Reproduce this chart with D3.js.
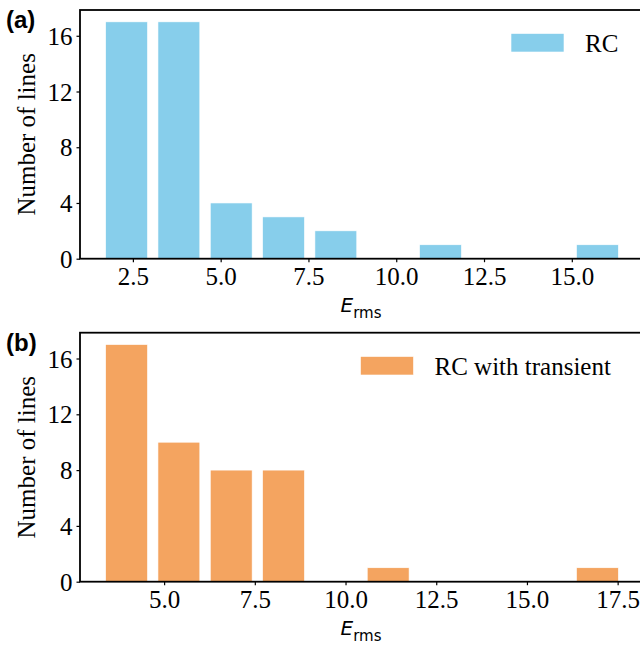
<!DOCTYPE html>
<html>
<head>
<meta charset="utf-8">
<script src="https://cdn.jsdelivr.net/npm/d3@7"></script>
<style>
  html, body { margin: 0; padding: 0; background: #fff; }
  svg { display: block; }
</style>
</head>
<body>
<svg id="chart" width="640" height="645"></svg>
<script>
// ---- data ----
const edgesA  = [1.575, 3.065, 4.555, 6.045, 7.535, 9.025, 10.515, 12.005, 13.495, 14.985, 16.475];
const countsA = [17, 17, 4, 3, 2, 0, 1, 0, 0, 1];
const edgesB  = [3.244, 4.686, 6.128, 7.570, 9.012, 10.454, 11.896, 13.338, 14.780, 16.222, 17.664];
const countsB = [17, 10, 8, 8, 0, 1, 0, 0, 0, 1];
const xTicksA = [2.5, 5.0, 7.5, 10.0, 12.5, 15.0];
const xTicksB = [5.0, 7.5, 10.0, 12.5, 15.0, 17.5];
const yTicks  = [0, 4, 8, 12, 16];
const panelLabels = ["(a)", "(b)"];
const legendLabels = ["RC", "RC with transient"];
const colors = ["#87CEEB", "#F4A460"];
const yLabel = "Number of lines";

const svg = d3.select("#chart");
const serif = "'Liberation Serif', 'Times New Roman', serif";

function panel(cfg) {
  const { edges, counts, xTicks, top, bottom, color, label, legend, legX, legY } = cfg;
  const left = 80, right = 644;
  const rw = 0.8;
  const bars = counts.map((c, i) => {
    const w = edges[i + 1] - edges[i];
    return { x0: edges[i] + w * (1 - rw) / 2, x1: edges[i + 1] - w * (1 - rw) / 2, c };
  });
  const lo = d3.min(bars, d => d.x0), hi = d3.max(bars, d => d.x1);
  const m = (hi - lo) * 0.05;
  const x = d3.scaleLinear().domain([lo - m, hi + m]).range([left, right]);
  const ymax = d3.max(counts) * 1.05;
  const y = d3.scaleLinear().domain([0, ymax]).range([bottom, top]);
  const g = svg.append("g");

  g.selectAll("rect.bar").data(bars).enter().append("rect")
    .attr("class", "bar")
    .attr("x", d => x(d.x0))
    .attr("width", d => x(d.x1) - x(d.x0))
    .attr("y", d => y(d.c))
    .attr("height", d => y(0) - y(d.c))
    .attr("fill", color)
    .attr("stroke", d => d.c > 0 ? "#ffffff" : "none")
    .attr("stroke-width", 0.6);

  // axes
  const xa = g.append("g").attr("transform", `translate(0,${bottom})`)
    .call(d3.axisBottom(x).tickValues(xTicks).tickFormat(d3.format(".1f")).tickSize(3.5).tickPadding(5));
  const ya = g.append("g").attr("transform", `translate(${left},0)`)
    .call(d3.axisLeft(y).tickValues(yTicks).tickFormat(d3.format("d")).tickSize(3.5).tickPadding(4));
  [xa, ya].forEach(a => {
    a.attr("font-family", serif).attr("font-size", 25);
    a.select(".domain").remove();
    a.selectAll(".tick line").attr("stroke", "#000").attr("stroke-width", 1.2);
    a.selectAll(".tick text").attr("fill", "#000")
      .style("font-family", serif).style("font-size", "25px");
  });
  ya.selectAll(".tick text").attr("dy", "0.34em");
  xa.selectAll(".tick text").attr("dy", "0.72em");

  // spines (right spine falls outside the picture)
  g.append("rect").attr("x", left).attr("y", top).attr("width", right - left).attr("height", bottom - top)
    .attr("fill", "none").attr("stroke", "#000").attr("stroke-width", 1.8);

  // y label
  g.append("text")
    .attr("transform", `translate(35,${(top + bottom) / 2}) rotate(-90)`)
    .attr("text-anchor", "middle")
    .attr("font-family", serif).attr("font-size", 25).attr("fill", "#000")
    .text(yLabel);

  // x label E_rms
  const xl = g.append("text")
    .attr("x", (left + right) / 2 - 1).attr("y", bottom + 53)
    .attr("text-anchor", "middle")
    .attr("font-family", "'DejaVu Sans', sans-serif").attr("fill", "#000");
  xl.append("tspan").attr("font-style", "italic").attr("font-size", 20).text("E");
  xl.append("tspan").attr("font-size", 15).attr("dy", 6).text("rms");

  // panel label
  g.append("text").attr("x", 6).attr("y", top + 18)
    .attr("font-family", "'Liberation Sans', Arial, sans-serif").attr("font-weight", "bold")
    .attr("font-size", 24).attr("fill", "#000").text(label);

  // legend
  g.append("rect").attr("x", legX).attr("y", legY).attr("width", 53).attr("height", 18.5)
    .attr("fill", color).attr("stroke", "#fff").attr("stroke-width", 0.6);
  g.append("text").attr("x", legX + 74).attr("y", legY + 18.5)
    .attr("font-family", serif).attr("font-size", 25).attr("fill", "#000").text(legend);
}

panel({ edges: edgesA, counts: countsA, xTicks: xTicksA, top: 10, bottom: 258.7,
        color: colors[0], label: panelLabels[0], legend: legendLabels[0], legX: 511, legY: 33.5 });
panel({ edges: edgesB, counts: countsB, xTicks: xTicksB, top: 332.7, bottom: 581.7,
        color: colors[1], label: panelLabels[1], legend: legendLabels[1], legX: 360.5, legY: 356.5 });
</script>
</body>
</html>
